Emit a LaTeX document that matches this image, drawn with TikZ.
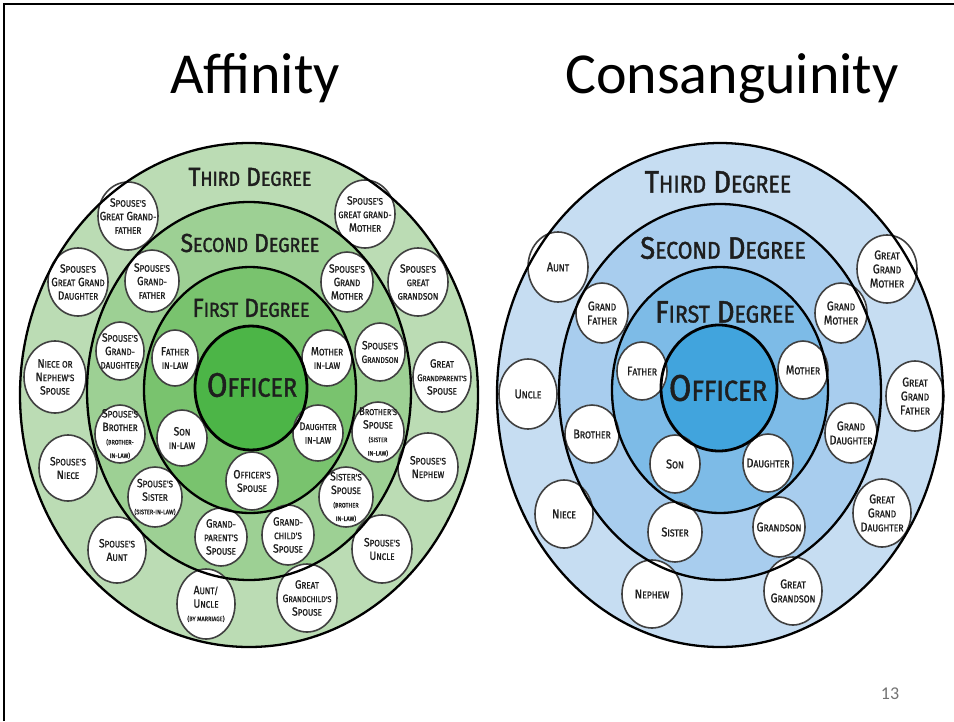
\documentclass[tikz,border=0pt]{standalone}
\usepackage{fontspec}
\setmainfont{Carlito}
\newfontfamily\labfont[FakeStretch=0.86, FakeBold=1.2]{Fira Sans}
\newfontfamily\degfont[FakeStretch=0.88, FakeBold=1.5]{Fira Sans}
\usetikzlibrary{shapes.geometric}
\newcommand\C[2]{#1\scalebox{0.78}{#2}}
\newcommand\sm[1]{\scalebox{0.78}{#1}}
\newcommand\tl[1]{{\fontsize{6.5}{7}\selectfont #1}}
\newcommand\fs[1]{\fontsize{#1}{12}\selectfont}
\newcommand\bub[6]{\draw[bubble] (#2,#3) ellipse [x radius=#4pt, y radius=#5pt]; \node[lbl] (#1) at (#2,#3) {#6};}
\definecolor{gA}{HTML}{BBDCB4}
\definecolor{gB}{HTML}{9DD094}
\definecolor{gC}{HTML}{79C36E}
\definecolor{gD}{HTML}{4CB547}
\definecolor{bA}{HTML}{C6DDF2}
\definecolor{bB}{HTML}{A8CDEE}
\definecolor{bC}{HTML}{7DBBE7}
\definecolor{bD}{HTML}{41A4DD}
\definecolor{ink}{HTML}{1E1E1E}
\begin{document}
\begin{tikzpicture}[x=1pt,y=-1pt,
  bubble/.style={draw=ink!85, line width=1.6pt, fill=white},
  lbl/.style={font=\labfont\fontsize{12}{13.5}\selectfont, align=center, inner sep=0pt, text=ink},
  ringline/.style={draw=black, line width=2.3pt},
  deg/.style={font=\degfont\fontsize{26}{28}\selectfont, text=ink, inner sep=0pt},
  rdeg/.style={font=\degfont\fontsize{31}{33}\selectfont, text=ink, inner sep=0pt},
  title/.style={font=\fontsize{58}{60}\selectfont, anchor=base, inner sep=0pt}]
\useasboundingbox (0,0) rectangle (954,721);
\fill[white] (0,0) rectangle (954,721);
\draw[line width=2.5pt] (4,721) -- (4,4) -- (954,4);

\node[title] (t1) at (255,93) {Affinity};
\node[title] (t2) at (732,93) {Consanguinity};
\node[font=\fontsize{18}{20}\selectfont, text=black!55, anchor=base] (pg) at (890,699) {13};

% ---------- left rings ----------
\fill[gA] (249,395) ellipse [x radius=229pt, y radius=252pt];
\fill[gB] (249,391) ellipse [x radius=162pt, y radius=189pt];
\fill[gC] (250,390) ellipse [x radius=106pt, y radius=123pt];
\fill[gD] (251,388) ellipse [x radius=56pt, y radius=62pt];
% ---------- right rings ----------
\fill[bA] (720,395) ellipse [x radius=223pt, y radius=252pt];
\fill[bB] (720,392) ellipse [x radius=161pt, y radius=188pt];
\fill[bC] (720,390) ellipse [x radius=108pt, y radius=123pt];
\fill[bD] (719,388) ellipse [x radius=58pt, y radius=63pt];

% ---------- left bubbles ----------
\begin{scope}
\bub{a1}{128}{216}{30}{34}{\C{S}{POUSE'S}\\\C{G}{REAT} \C{G}{RAND-}\\\sm{FATHER}}
\bub{a2}{365}{214}{30}{34}{\C{S}{POUSE'S}\\\sm{GREAT GRAND-}\\\C{M}{OTHER}}
\bub{a3}{78}{282}{30}{34}{\C{S}{POUSE'S}\\\C{G}{REAT} \C{G}{RAND}\\\C{D}{AUGHTER}}
\bub{a4}{55}{377}{31}{36}{\C{N}{IECE OR}\\\C{N}{EPHEW'S}\\\C{S}{POUSE}}
\bub{a5}{68}{468}{29}{33}{\C{S}{POUSE'S}\\\C{N}{IECE}}
\bub{a6}{117}{550}{29}{33}{\C{S}{POUSE'S}\\\C{A}{UNT}}
\bub{a7}{206}{604}{29}{35}{\C{A}{UNT/}\\\C{U}{NCLE}\\\tl{(BY MARRIAGE)}}
\bub{a8}{307}{598}{30}{34}{\C{G}{REAT}\\\fs{10.8}\C{G}{RANDCHILD'S}\\\C{S}{POUSE}}
\bub{a9}{382}{549}{30}{34}{\C{S}{POUSE'S}\\\C{U}{NCLE}}
\bub{a10}{428}{467}{30}{34}{\C{S}{POUSE'S}\\\C{N}{EPHEW}}
\bub{a11}{442}{377}{29}{35}{\C{G}{REAT}\\\fs{9.8}\C{G}{RANDPARENT'S}\\\C{S}{POUSE}}
\bub{a12}{418}{282}{30}{34}{\C{S}{POUSE'S}\\\sm{GREAT}\\\sm{GRANDSON}}
\bub{b1}{152}{281}{27}{31}{\C{S}{POUSE'S}\\\C{G}{RAND-}\\\sm{FATHER}}
\bub{b2}{120}{351}{24}{29}{\C{S}{POUSE'S}\\\C{G}{RAND-}\\\sm{DAUGHTER}}
\bub{b3}{120}{434}{25}{29}{\C{S}{POUSE'S}\\\C{B}{ROTHER}\\\tl{(BROTHER-}\\\tl{IN-LAW)}}
\bub{b4}{155}{497}{27}{30}{\C{S}{POUSE'S}\\\C{S}{ISTER}\\\tl{(SISTER-IN-LAW)}}
\bub{b5}{221}{537}{26}{29}{\C{G}{RAND-}\\\sm{PARENT'S}\\\C{S}{POUSE}}
\bub{b6}{288}{535}{26}{30}{\C{G}{RAND-}\\\sm{CHILD'S}\\\C{S}{POUSE}}
\bub{b7}{346}{497}{27}{30}{\C{S}{ISTER'S}\\\C{S}{POUSE}\\\tl{(BROTHER}\\\tl{IN-LAW)}}
\bub{b8}{378}{432}{26}{30}{\fs{11}\C{B}{ROTHER'S}\\\C{S}{POUSE}\\\tl{(SISTER}\\\tl{IN-LAW)}}
\bub{b9}{380}{352}{25}{29}{\C{S}{POUSE'S}\\\fs{10.5}\C{G}{RANDSON}}
\bub{b10}{347}{282}{26}{30}{\C{S}{POUSE'S}\\\C{G}{RAND}\\\C{M}{OTHER}}
\bub{c1}{175}{358}{23}{28}{\C{F}{ATHER}\\\sm{IN-LAW}}
\bub{c2}{327}{358}{25}{28}{\C{M}{OTHER}\\\sm{IN-LAW}}
\bub{c3}{182}{438}{25}{28}{\C{S}{ON}\\\sm{IN-LAW}}
\bub{c4}{318}{433}{25}{28}{\fs{11}\C{D}{AUGHTER}\\\sm{IN-LAW}}
\bub{c5}{252}{481}{26}{29}{\C{O}{FFICER'S}\\\C{S}{POUSE}}
\end{scope}

% ---------- right bubbles ----------
\begin{scope}[lbl/.append style={font=\labfont\fontsize{12.8}{14}\selectfont}]
\bub{d1}{558}{267}{30}{35}{\C{A}{UNT}}
\bub{d2}{528}{394}{29}{35}{\C{U}{NCLE}}
\bub{d3}{564}{514}{29}{34}{\C{N}{IECE}}
\bub{d4}{652}{594}{30}{34}{\C{N}{EPHEW}}
\bub{d5}{793}{591}{29}{34}{\C{G}{REAT}\\\C{G}{RANDSON}}
\bub{d6}{882}{513}{29}{34}{\C{G}{REAT}\\\C{G}{RAND}\\\C{D}{AUGHTER}}
\bub{d7}{915}{396}{29}{35}{\C{G}{REAT}\\\C{G}{RAND}\\\C{F}{ATHER}}
\bub{d8}{887}{269}{30}{34}{\C{G}{REAT}\\\C{G}{RAND}\\\C{M}{OTHER}}
\bub{e1}{602}{313}{26}{30}{\C{G}{RAND}\\\C{F}{ATHER}}
\bub{e2}{592}{434}{27}{29}{\C{B}{ROTHER}}
\bub{e3}{675}{532}{27}{30}{\C{S}{ISTER}}
\bub{e4}{779}{527}{26}{30}{\C{G}{RANDSON}}
\bub{e5}{851}{433}{26}{30}{\C{G}{RAND}\\\C{D}{AUGHTER}}
\bub{e6}{841}{313}{26}{30}{\C{G}{RAND}\\\C{M}{OTHER}}
\bub{f1}{642}{371}{25}{29}{\C{F}{ATHER}}
\bub{f2}{803}{370}{25}{29}{\C{M}{OTHER}}
\bub{f3}{675}{464}{25}{29}{\C{S}{ON}}
\bub{f4}{768}{463}{25}{29}{\C{D}{AUGHTER}}
\end{scope}

% ---------- ring outlines on top ----------
\draw[ringline] (249,395) ellipse [x radius=229pt, y radius=252pt];
\draw[ringline] (249,391) ellipse [x radius=162pt, y radius=189pt];
\draw[ringline] (250,390) ellipse [x radius=106pt, y radius=123pt];
\draw[ringline, line width=2.8pt] (251,388) ellipse [x radius=56pt, y radius=62pt];
\draw[ringline] (720,395) ellipse [x radius=223pt, y radius=252pt];
\draw[ringline] (720,392) ellipse [x radius=161pt, y radius=188pt];
\draw[ringline] (720,390) ellipse [x radius=108pt, y radius=123pt];
\draw[ringline, line width=2.8pt] (719,388) ellipse [x radius=58pt, y radius=63pt];

% ---------- degree labels ----------
\node[deg] (l3) at (250,177) {\C{T}{HIRD} \C{D}{EGREE}};
\node[deg] (l2) at (250,243) {\C{S}{ECOND} \C{D}{EGREE}};
\node[deg] (l1) at (251,308) {\C{F}{IRST} \C{D}{EGREE}};
\node[deg, font=\degfont\fontsize{34}{36}\selectfont] (l0) at (252,385) {\C{O}{FFICER}};
\node[rdeg] (r3) at (718,182) {\C{T}{HIRD} \C{D}{EGREE}};
\node[rdeg] (r2) at (723,248) {\C{S}{ECOND} \C{D}{EGREE}};
\node[rdeg] (r1) at (725,312) {\C{F}{IRST} \C{D}{EGREE}};
\node[rdeg, font=\degfont\fontsize{37}{39}\selectfont] (r0) at (718,388) {\C{O}{FFICER}};
\end{tikzpicture}
\end{document}
